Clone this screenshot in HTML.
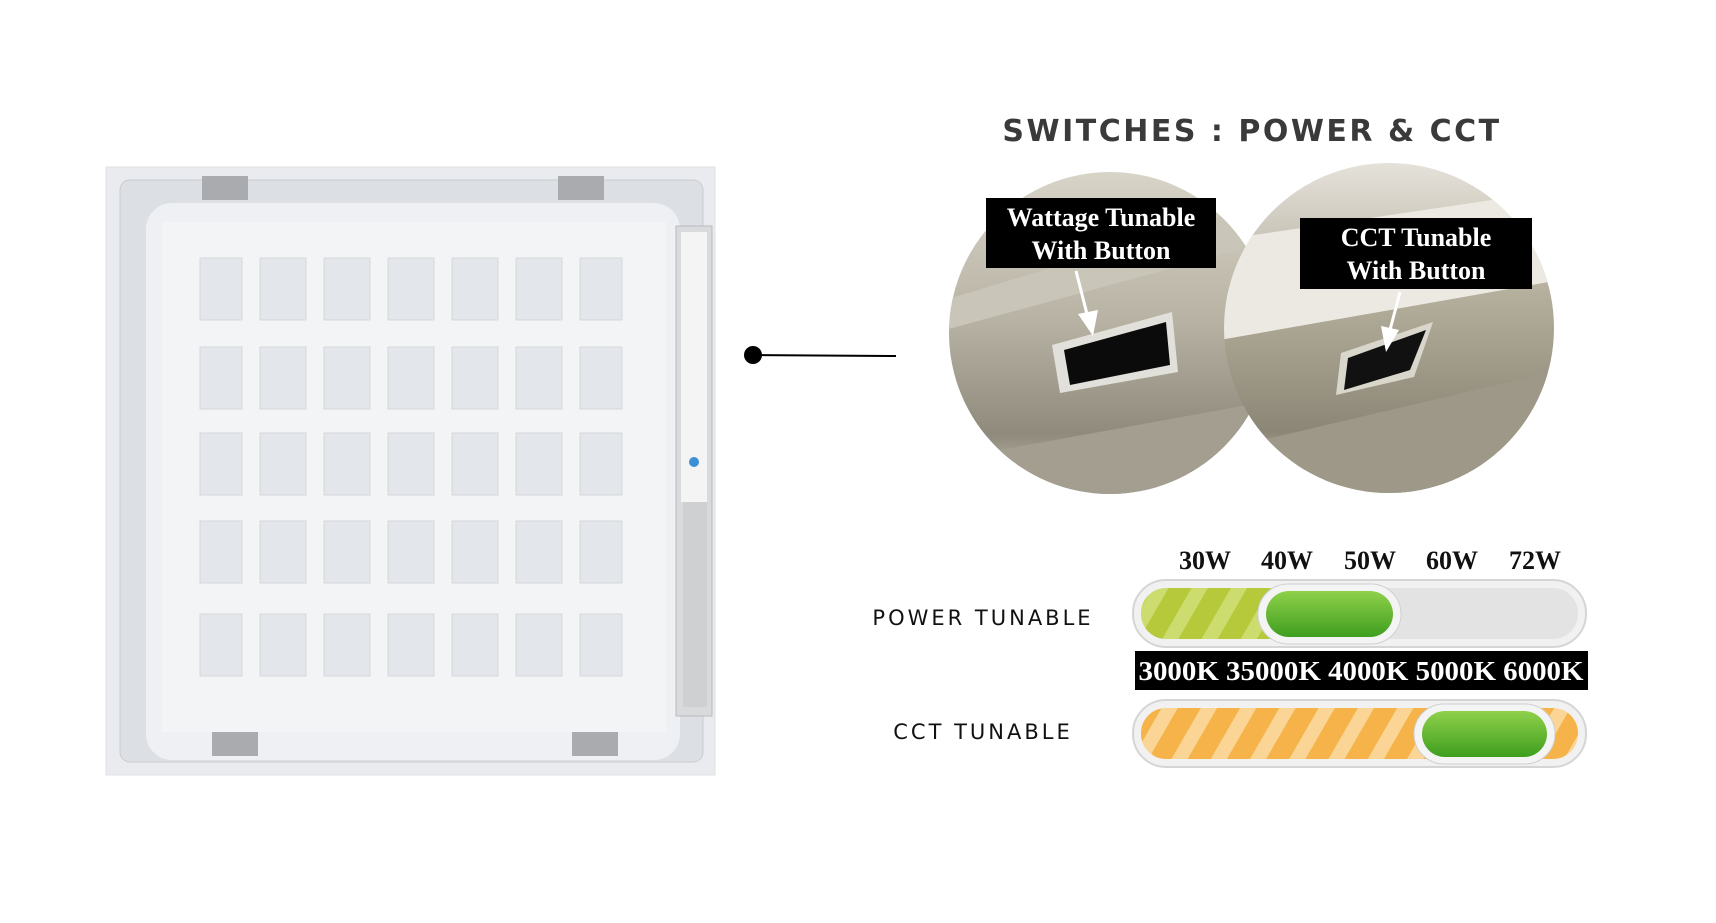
<!DOCTYPE html>
<html><head><meta charset="utf-8"><style>
html,body{margin:0;padding:0;background:#fff}
body{width:1716px;height:918px;position:relative;overflow:hidden}
</style></head><body>
<svg width="1716" height="918" viewBox="0 0 1716 918" xmlns="http://www.w3.org/2000/svg">
<defs>
<pattern id="sg" width="34" height="34" patternUnits="userSpaceOnUse" patternTransform="rotate(30)">
<rect width="34" height="34" fill="#b6c93a"/><rect width="14" height="34" fill="#cddc6e"/></pattern>
<pattern id="so" width="34" height="34" patternUnits="userSpaceOnUse" patternTransform="rotate(30)">
<rect width="34" height="34" fill="#f5b349"/><rect width="14" height="34" fill="#fad596"/></pattern>
<linearGradient id="kn" x1="0" y1="0" x2="0" y2="1"><stop offset="0" stop-color="#8fd14a"/><stop offset="1" stop-color="#3f9e1f"/></linearGradient>
<linearGradient id="c1" x1="0" y1="0" x2="0" y2="1"><stop offset="0" stop-color="#d8d4c8"/><stop offset="0.45" stop-color="#b8b3a4"/><stop offset="0.8" stop-color="#8f8a7c"/><stop offset="1" stop-color="#ccc8bc"/></linearGradient>
<linearGradient id="c2" x1="0" y1="0" x2="0" y2="1"><stop offset="0" stop-color="#e6e3dc"/><stop offset="0.4" stop-color="#b4ae9c"/><stop offset="0.8" stop-color="#8c8676"/><stop offset="1" stop-color="#d0ccc0"/></linearGradient>
<clipPath id="cl1"><circle cx="1110" cy="333" r="161"/></clipPath>
<clipPath id="cl2"><circle cx="1389" cy="328" r="165"/></clipPath>
</defs>

<!-- panel -->
<rect x="106" y="167" width="609" height="608" fill="#e9ebee" stroke="#dfe1e4"/>
<rect x="120" y="180" width="583" height="582" rx="10" fill="#dcdfe3" stroke="#c9ccd0"/>
<rect x="146" y="203" width="534" height="557" rx="26" fill="#eef0f3"/>
<rect x="162" y="222" width="504" height="510" fill="#f3f4f6"/>
<g fill="#e3e6ea" stroke="#d4d7db">
<g id="row">
<rect x="200" y="258" width="42" height="62"/><rect x="260" y="258" width="46" height="62"/><rect x="324" y="258" width="46" height="62"/><rect x="388" y="258" width="46" height="62"/><rect x="452" y="258" width="46" height="62"/><rect x="516" y="258" width="46" height="62"/><rect x="580" y="258" width="42" height="62"/>
</g>
<use href="#row" y="89"/><use href="#row" y="175"/><use href="#row" y="263"/><use href="#row" y="356"/>
</g>
<rect x="676" y="226" width="36" height="490" fill="#d9dadc" stroke="#b9bbbe"/>
<rect x="681" y="232" width="26" height="270" fill="#f4f4f4"/>
<rect x="683" y="502" width="24" height="205" fill="#cfd0d2"/>
<circle cx="694" cy="462" r="5" fill="#3b8fd3"/>
<g fill="#a9abae"><rect x="202" y="176" width="46" height="24"/><rect x="558" y="176" width="46" height="24"/><rect x="212" y="732" width="46" height="24"/><rect x="572" y="732" width="46" height="24"/></g>

<!-- connector -->
<circle cx="753" cy="355" r="9" fill="#000"/>
<line x1="753" y1="355" x2="896" y2="356" stroke="#000" stroke-width="2"/>

<!-- title -->
<text x="1252" y="141" text-anchor="middle" font-family="DejaVu Sans, sans-serif" font-weight="bold" font-size="30" fill="#3a3a3a" letter-spacing="2.5">SWITCHES : POWER &amp; CCT</text>

<!-- circle 1 -->
<g clip-path="url(#cl1)">
<rect x="945" y="170" width="330" height="330" fill="url(#c1)"/>
<polygon points="945,300 1275,200 1275,240 945,330" fill="#c9c5b8"/>
<polygon points="945,460 1275,400 1275,500 945,500" fill="#a39e90"/>
<polygon points="1052,345 1172,312 1178,372 1060,393" fill="#e2e0da"/>
<polygon points="1064,350 1166,322 1170,365 1070,385" fill="#0b0b0b"/>
</g>
<!-- circle 2 -->
<g clip-path="url(#cl2)">
<rect x="1220" y="160" width="340" height="340" fill="url(#c2)"/>
<polygon points="1220,240 1560,190 1560,280 1220,340" fill="#ece9e2"/>
<polygon points="1220,450 1560,370 1560,500 1220,500" fill="#9e9888"/>
<polygon points="1341,353 1433,322 1414,377 1336,395" fill="#d9d6cc"/>
<polygon points="1348,358 1426,330 1410,370 1344,390" fill="#111"/>
</g>
<!-- labels -->
<rect x="986" y="198" width="230" height="70" fill="#000"/>
<text x="1101" y="226" text-anchor="middle" font-family="Liberation Serif, serif" font-weight="bold" font-size="26" fill="#fff">Wattage Tunable</text>
<text x="1101" y="259" text-anchor="middle" font-family="Liberation Serif, serif" font-weight="bold" font-size="26" fill="#fff">With Button</text>
<rect x="1300" y="218" width="232" height="71" fill="#000"/>
<text x="1416" y="246" text-anchor="middle" font-family="Liberation Serif, serif" font-weight="bold" font-size="26" fill="#fff">CCT Tunable</text>
<text x="1416" y="279" text-anchor="middle" font-family="Liberation Serif, serif" font-weight="bold" font-size="26" fill="#fff">With Button</text>
<line x1="1076" y1="271" x2="1088" y2="318" stroke="#fff" stroke-width="3"/>
<polygon points="1078,314 1098,310 1093,336" fill="#fff"/>
<line x1="1400" y1="292" x2="1390" y2="330" stroke="#fff" stroke-width="3"/>
<polygon points="1381,326 1399,330 1386,352" fill="#fff"/>

<!-- watts -->
<g font-family="Liberation Serif, serif" font-weight="bold" font-size="26" fill="#111" text-anchor="middle">
<text x="1205" y="569">30W</text><text x="1287" y="569">40W</text><text x="1370" y="569">50W</text><text x="1452" y="569">60W</text><text x="1535" y="569">72W</text>
</g>
<!-- power bar -->
<rect x="1133" y="580" width="453" height="67" rx="33" fill="#f1f1f1" stroke="#d5d5d5" stroke-width="2"/>
<rect x="1141" y="588" width="437" height="51" rx="25" fill="#e3e3e3"/>
<rect x="1141" y="588" width="180" height="51" rx="25" fill="url(#sg)"/>
<rect x="1258" y="584" width="143" height="60" rx="30" fill="#f4f4f4" stroke="#d0d0d0"/>
<rect x="1266" y="591" width="127" height="46" rx="23" fill="url(#kn)"/>

<text x="983" y="625" text-anchor="middle" font-family="DejaVu Sans, sans-serif" font-size="21" fill="#111" letter-spacing="3">POWER TUNABLE</text>
<text x="983" y="739" text-anchor="middle" font-family="DejaVu Sans, sans-serif" font-size="21" fill="#111" letter-spacing="3">CCT TUNABLE</text>

<!-- cct band -->
<rect x="1135" y="651" width="453" height="39" fill="#000"/>
<text x="1361" y="680" text-anchor="middle" font-family="Liberation Serif, serif" font-weight="bold" font-size="27" fill="#fff" textLength="445" lengthAdjust="spacingAndGlyphs">3000K 35000K 4000K 5000K 6000K</text>

<!-- cct bar -->
<rect x="1133" y="700" width="453" height="67" rx="33" fill="#f1f1f1" stroke="#d5d5d5" stroke-width="2"/>
<rect x="1141" y="708" width="437" height="51" rx="25" fill="url(#so)"/>
<rect x="1414" y="704" width="141" height="60" rx="30" fill="#f4f4f4" stroke="#d0d0d0"/>
<rect x="1422" y="711" width="125" height="46" rx="23" fill="url(#kn)"/>
</svg>
</body></html>
